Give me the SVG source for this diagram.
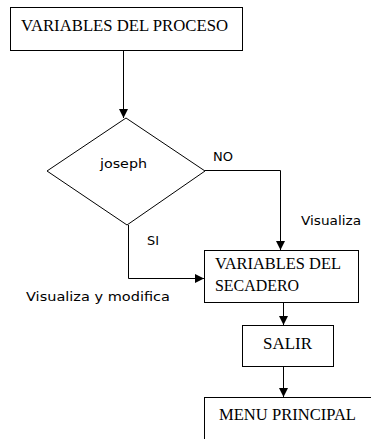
<svg xmlns="http://www.w3.org/2000/svg" width="371" height="439" viewBox="0 0 371 439">
  <style>
    .box { fill: #ffffff; stroke: #000000; stroke-width: 1; }
    .conn { fill: none; stroke: #000000; stroke-width: 1; }
    .serif { font-family: "Liberation Serif", "Times New Roman", serif; font-size: 16px; fill: #000000; }
    .sans { font-family: "DejaVu Sans", Verdana, sans-serif; font-size: 13px; fill: #000000; }
  </style>
  <defs>
    <marker id="arrow" viewBox="0 0 10 10" refX="10" refY="5" markerWidth="10" markerHeight="9" markerUnits="userSpaceOnUse" orient="auto">
      <path d="M0,0 L10,5 L0,10 z" fill="#000000"/>
    </marker>
  </defs>
  <rect width="371" height="439" fill="#ffffff"/>

  <g id="connectors">
    <path class="conn" d="M123.5,50 V118" marker-end="url(#arrow)"/>
    <path class="conn" d="M205,170.5 H280.5 V250" marker-end="url(#arrow)"/>
    <path class="conn" d="M128.5,225 V278.5 H204" marker-end="url(#arrow)"/>
    <path class="conn" d="M283.5,303 V325" marker-end="url(#arrow)"/>
    <path class="conn" d="M283.5,367 V397" marker-end="url(#arrow)"/>
    <text class="sans" x="213" y="161" textLength="20" lengthAdjust="spacingAndGlyphs">NO</text>
    <text class="sans" x="147" y="245" textLength="12" lengthAdjust="spacingAndGlyphs">SI</text>
    <text class="sans" x="301" y="225" textLength="60" lengthAdjust="spacingAndGlyphs">Visualiza</text>
    <text class="sans" x="26" y="301" textLength="144" lengthAdjust="spacingAndGlyphs">Visualiza y modifica</text>
  </g>

  <g id="variables-proceso">
    <rect class="box" x="10.5" y="7.5" width="232" height="43"/>
    <text class="serif" x="21" y="31" textLength="207" lengthAdjust="spacingAndGlyphs">VARIABLES DEL PROCESO</text>
  </g>

  <g id="joseph">
    <polygon class="box" points="126,118 205,171 127,225 47,171"/>
    <text class="sans" x="100" y="168" textLength="47" lengthAdjust="spacingAndGlyphs">joseph</text>
  </g>

  <g id="variables-secadero">
    <rect class="box" x="204.5" y="250.5" width="154" height="52"/>
    <text class="serif" x="215" y="269" textLength="126" lengthAdjust="spacingAndGlyphs">VARIABLES DEL</text>
    <text class="serif" x="215" y="291" textLength="84" lengthAdjust="spacingAndGlyphs">SECADERO</text>
  </g>

  <g id="salir">
    <rect class="box" x="242.5" y="325.5" width="91" height="41"/>
    <text class="serif" x="263" y="349" textLength="49" lengthAdjust="spacingAndGlyphs">SALIR</text>
  </g>

  <g id="menu-principal">
    <rect class="box" x="204.5" y="397.5" width="170" height="50"/>
    <text class="serif" x="219" y="420" textLength="137" lengthAdjust="spacingAndGlyphs">MENU PRINCIPAL</text>
  </g>
</svg>
